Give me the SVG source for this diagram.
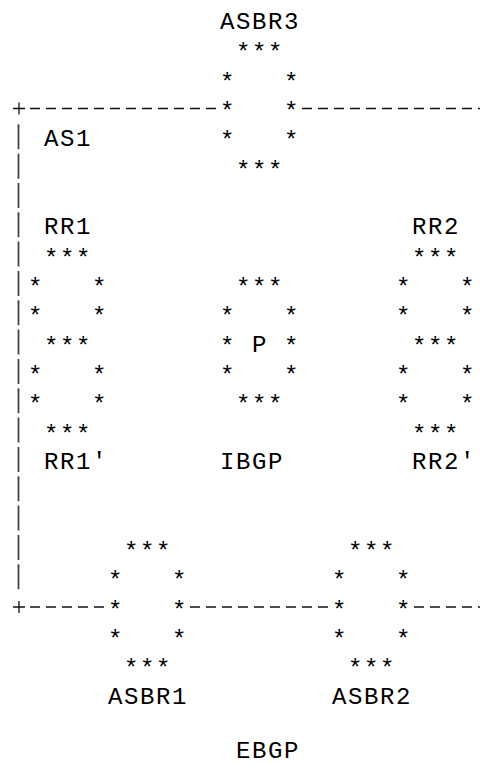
<svg xmlns="http://www.w3.org/2000/svg" width="480" height="765" viewBox="0 0 480 765">
<style>
text { font-family: "Liberation Mono", "Courier New", monospace; font-size: 24px; letter-spacing: 1.6px; fill: #000; white-space: pre; }
text.a { transform: translateY(2px); }
.dash { stroke: #111; stroke-width: 1.3; stroke-dasharray: 10 6; fill: none; }
.bar { stroke: #444; stroke-width: 1.8; stroke-dasharray: 25 4.33; fill: none; }
.plus { stroke: #111; stroke-width: 1.3; fill: none; }
</style>
<rect width="480" height="765" fill="#fff"/>
<g id="connectors">
  <path class="dash" d="M30 108.5H216"/>
  <path class="dash" d="M302 108.5H480"/>
  <path class="dash" d="M30 607H104"/>
  <path class="dash" d="M190 607H328"/>
  <path class="dash" d="M414 607H480"/>
  <path class="plus" d="M13 108.5H25M19 102.5V114.5"/>
  <path class="plus" d="M13 607H25M19 601V613"/>
  <path class="bar" d="M18.5 124.3V589.3"/>
</g>
<g id="ASBR3">
  <text x="220" y="29">ASBR3</text>
  <text class="a" x="236" y="58.3">***</text>
  <text class="a" x="220" y="87.7">*   *</text>
  <text class="a" x="220" y="117">*   *</text>
  <text class="a" x="220" y="146.3">*   *</text>
  <text class="a" x="236" y="175.7">***</text>
</g>
<g id="AS1">
  <text x="44" y="146.3">AS1</text>
</g>
<g id="RR1">
  <text x="44" y="234.3">RR1</text>
  <text class="a" x="44" y="263.7">***</text>
  <text class="a" x="28" y="293">*   *</text>
  <text class="a" x="28" y="322.3">*   *</text>
  <text class="a" x="44" y="351.7">***</text>
  <text class="a" x="28" y="381">*   *</text>
  <text class="a" x="28" y="410.3">*   *</text>
  <text class="a" x="44" y="439.7">***</text>
  <text x="44" y="469">RR1'</text>
</g>
<g id="P">
  <text class="a" x="236" y="293">***</text>
  <text class="a" x="220" y="322.3">*   *</text>
  <text class="a" x="220" y="351.7">*</text>
  <text x="252" y="351.7">P</text>
  <text class="a" x="284" y="351.7">*</text>
  <text class="a" x="220" y="381">*   *</text>
  <text class="a" x="236" y="410.3">***</text>
  <text x="220" y="469">IBGP</text>
</g>
<g id="RR2">
  <text x="412" y="234.3">RR2</text>
  <text class="a" x="412" y="263.7">***</text>
  <text class="a" x="396" y="293">*   *</text>
  <text class="a" x="396" y="322.3">*   *</text>
  <text class="a" x="412" y="351.7">***</text>
  <text class="a" x="396" y="381">*   *</text>
  <text class="a" x="396" y="410.3">*   *</text>
  <text class="a" x="412" y="439.7">***</text>
  <text x="412" y="469">RR2'</text>
</g>
<g id="ASBR1">
  <text class="a" x="124" y="557">***</text>
  <text class="a" x="108" y="586.3">*   *</text>
  <text class="a" x="108" y="615.7">*   *</text>
  <text class="a" x="108" y="645">*   *</text>
  <text class="a" x="124" y="674.3">***</text>
  <text x="108" y="703.7">ASBR1</text>
</g>
<g id="ASBR2">
  <text class="a" x="348" y="557">***</text>
  <text class="a" x="332" y="586.3">*   *</text>
  <text class="a" x="332" y="615.7">*   *</text>
  <text class="a" x="332" y="645">*   *</text>
  <text class="a" x="348" y="674.3">***</text>
  <text x="332" y="703.7">ASBR2</text>
</g>
<g id="EBGP">
  <text x="236" y="758">EBGP</text>
</g>
</svg>
